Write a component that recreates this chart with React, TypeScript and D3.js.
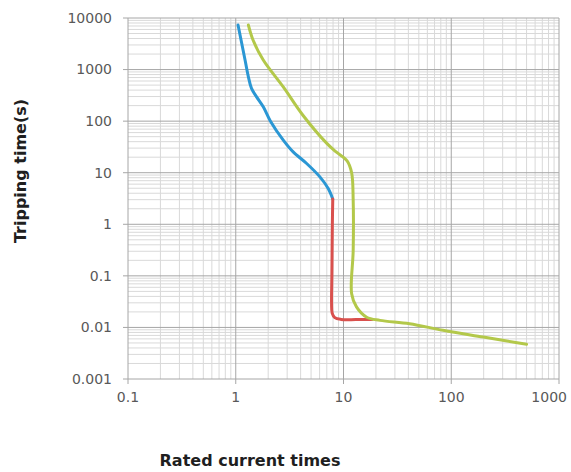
import React from 'react'
import * as d3 from 'd3'

// tick labels
const xTickLabels = ['0.1', '1', '10', '100', '1000']
const yTickLabels = ['0.001', '0.01', '0.1', '1', '10', '100', '1000', '10000']

// curves: [rated current times, tripping time (s)]
const blueCurve: [number, number][] = [
  [1.05, 7300], [1.22, 1530], [1.31, 724], [1.4, 431], [1.56, 296],
  [1.8, 190], [2.1, 100], [2.76, 43], [3.41, 25.4], [4.55, 15.1],
  [6.04, 8.3], [7.21, 4.93], [7.95, 3.1],
]
const redCurve: [number, number][] = [
  [7.95, 3.1], [7.88, 1], [7.8, 0.1], [7.75, 0.03], [7.85, 0.019],
  [8.3, 0.0155], [9.5, 0.0143], [13, 0.0142], [18.5, 0.0143],
]
const greenCurve: [number, number][] = [
  [1.31, 7300], [1.45, 3700], [1.8, 1530], [2.76, 460], [4.2, 130],
  [7.0, 37], [8.6, 25], [10.8, 17], [11.9, 10], [12.3, 2.9], [12.3, 0.31],
  [11.9, 0.045], [13.2, 0.025], [16.4, 0.0158], [21.8, 0.0137],
  [41, 0.0118], [84, 0.0088], [198, 0.0065], [500, 0.0047],
]

const W = 571
const H = 472
const left = 128, right = 559, top = 18, bottom = 379

const App = () => {
  const x = d3.scaleLog().domain([0.1, 1000]).range([left, right])
  const y = d3.scaleLog().domain([0.001, 10000]).range([bottom, top])

  const xMajor = xTickLabels.map(Number)
  const yMajor = yTickLabels.map(Number)
  const xMinor: number[] = []
  xMajor.slice(0, -1).forEach(d => { for (let k = 2; k < 10; k++) xMinor.push(d * k) })
  const yMinor: number[] = []
  yMajor.slice(0, -1).forEach(d => { for (let k = 2; k < 10; k++) yMinor.push(d * k) })

  const line = d3.line<[number, number]>()
    .x(d => x(d[0]))
    .y(d => y(d[1]))
    .curve(d3.curveCatmullRom.alpha(0.5))

  const font = "'DejaVu Sans', sans-serif"

  return (
    <svg width={W} height={H} style={{ position: 'absolute', left: 0, top: 0, background: '#fff' }}>
      <g>
        {xMinor.map((d, i) => (
          <line key={'xm' + i} x1={x(d)} x2={x(d)} y1={top} y2={bottom} stroke="#d9d9d9" strokeWidth={1} />
        ))}
        {yMinor.map((d, i) => (
          <line key={'ym' + i} x1={left} x2={right} y1={y(d)} y2={y(d)} stroke="#d9d9d9" strokeWidth={1} />
        ))}
        {xMajor.map((d, i) => (
          <line key={'xM' + i} x1={x(d)} x2={x(d)} y1={top} y2={bottom + 5} stroke="#a6a6a6" strokeWidth={1} />
        ))}
        {yMajor.map((d, i) => (
          <line key={'yM' + i} x1={left - 5} x2={right} y1={y(d)} y2={y(d)} stroke="#a6a6a6" strokeWidth={1} />
        ))}
      </g>
      <g fontFamily={font} fontSize={14} fill="#595959">
        {yTickLabels.map((t, i) => (
          <text key={'yl' + i} x={left - 16} y={y(yMajor[i])} dy="0.35em" textAnchor="end">{t}</text>
        ))}
        {xTickLabels.map((t, i) => {
          const last = i === xTickLabels.length - 1
          return (
            <text key={'xl' + i} x={last ? W - 4 : x(xMajor[i])} y={bottom + 23}
              textAnchor={last ? 'end' : 'middle'}>{t}</text>
          )
        })}
      </g>
      <g fill="none" strokeWidth={3} strokeLinecap="round" strokeLinejoin="round">
        <path d={line(blueCurve) || ''} stroke="#2b97d4" />
        <path d={line(redCurve) || ''} stroke="#d9504d" />
        <path d={line(greenCurve) || ''} stroke="#b3c84a" />
      </g>
      <g fontFamily={font} fontWeight="bold" fill="#1f1f1f" fontSize={16}>
        <text transform={`translate(26,171) rotate(-90)`} textAnchor="middle">Tripping time(s)</text>
        <text x={250} y={466} textAnchor="middle">Rated current times</text>
      </g>
    </svg>
  )
}

export default App
